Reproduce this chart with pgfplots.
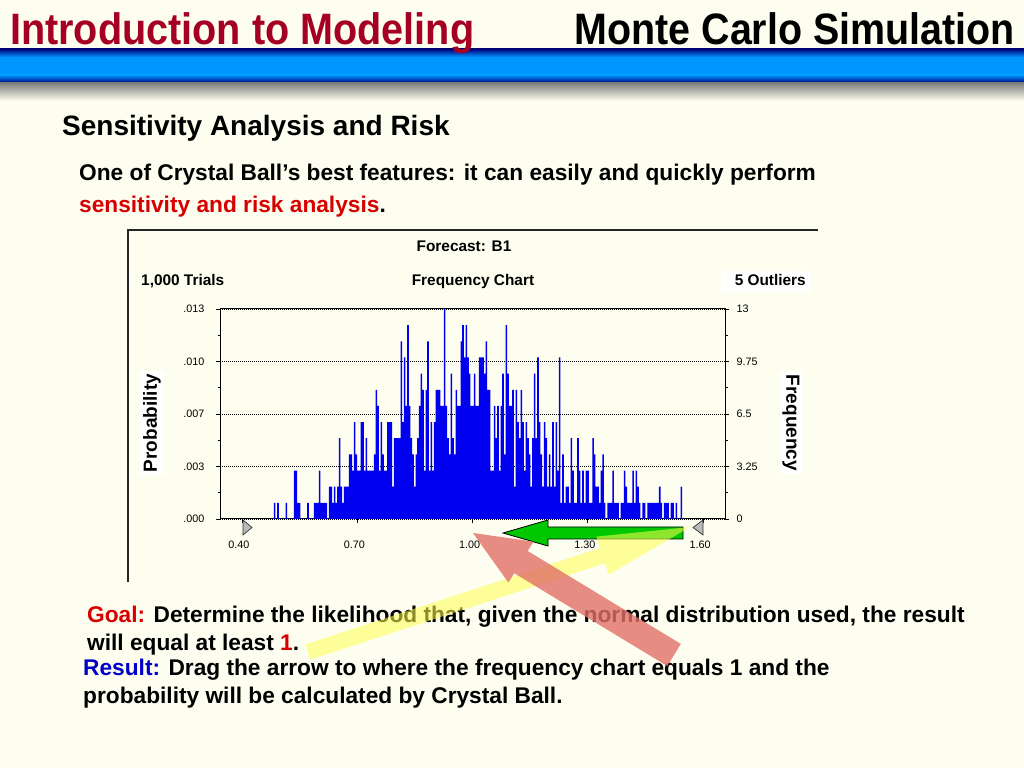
\documentclass[border=0pt]{standalone}
\usepackage{pgfplots}
\pgfplotsset{compat=1.18}
\usepackage{pgfplotstable}
\usepackage{fontspec}
\setmainfont{Liberation Sans}

\definecolor{bg}{RGB}{254,254,240}
\definecolor{titlered}{RGB}{165,0,35}
\definecolor{navy}{RGB}{0,0,125}
\definecolor{bandblue}{RGB}{0,150,255}
\definecolor{txtred}{RGB}{215,0,0}
\definecolor{txtblue}{RGB}{0,0,200}
\definecolor{barblue}{RGB}{0,0,240}
\definecolor{arrowgreen}{RGB}{0,200,0}
\definecolor{salmon}{RGB}{225,112,104}
\definecolor{yell}{RGB}{255,255,80}

% frequency counts of the 250 cells (1,000 trials)
\pgfplotstableread[row sep=\\]{
count\\
0\\0\\0\\0\\1\\0\\1\\0\\0\\0\\0\\1\\0\\0\\0\\0\\3\\3\\1\\1\\0\\0\\0\\0\\1\\0\\0\\0\\1\\1\\1\\3\\1\\1\\1\\1\\0\\2\\2\\1\\2\\1\\2\\5\\2\\1\\2\\2\\2\\4\\4\\3\\6\\4\\3\\3\\6\\6\\3\\5\\3\\3\\3\\
3\\4\\8\\7\\3\\6\\4\\3\\3\\6\\6\\6\\2\\5\\5\\5\\5\\11\\6\\10\\7\\12\\7\\5\\4\\2\\4\\5\\7\\9\\8\\3\\8\\11\\3\\6\\3\\6\\8\\8\\8\\7\\7\\13\\7\\5\\4\\9\\5\\4\\8\\7\\7\\11\\12\\10\\12\\10\\9\\7\\7\\
9\\7\\7\\10\\10\\10\\9\\11\\8\\8\\3\\3\\7\\5\\7\\3\\7\\9\\4\\12\\9\\7\\7\\8\\2\\8\\6\\5\\8\\6\\3\\6\\5\\4\\2\\5\\9\\5\\10\\6\\4\\2\\6\\5\\2\\4\\2\\6\\2\\6\\3\\10\\1\\4\\1\\2\\2\\1\\5\\3\\1\\
1\\5\\3\\1\\3\\1\\3\\3\\1\\1\\5\\4\\2\\2\\1\\3\\4\\1\\0\\1\\1\\1\\3\\1\\1\\1\\0\\1\\1\\3\\2\\1\\1\\1\\3\\1\\3\\2\\1\\0\\1\\1\\0\\1\\1\\1\\1\\1\\1\\1\\2\\1\\0\\1\\1\\1\\0\\1\\1\\0\\1\\0\\0\\2\\0\\
}\freqtable

\begin{document}
\begin{tikzpicture}[x=1pt,y=1pt]
% background
\fill[bg] (0,0) rectangle (1024,768);

% header band
\shade[top color=navy, bottom color=bandblue] (0,719) rectangle (1024,711);
\fill[bandblue] (0,711) rectangle (1024,693);
\shade[top color=bandblue, bottom color=navy] (0,693) rectangle (1024,685);
\shade[top color=black!50, bottom color=bg] (0,685) rectangle (1024,667);

% titles
\node[anchor=base west, inner sep=0, xscale=0.90, text=titlered,
      font=\bfseries\fontsize{44}{50}\selectfont] at (10,723) {Introduction to Modeling};
\node[anchor=base east, inner sep=0, xscale=0.896, text=black,
      font=\bfseries\fontsize{44}{50}\selectfont] at (1015,723) {Monte Carlo Simulation};

% slide text
\node[anchor=base west, inner sep=0, font=\bfseries\fontsize{28}{32}\selectfont] at (62,632) {Sensitivity Analysis and Risk};
\node[anchor=base west, inner sep=0, font=\bfseries\fontsize{22.7}{26}\selectfont] at (79,587) {One of Crystal Ball’s best features: it can easily and quickly perform};
\node[anchor=base west, inner sep=0, font=\bfseries\fontsize{22.7}{26}\selectfont] at (79,555) {\textcolor{txtred}{sensitivity and risk analysis}.};

% chart frame (screenshot edges)
\draw[line width=1.5pt, black!85] (128,186) -- (128,538) -- (818,538);

% chart headings
\node[anchor=base, inner sep=0, font=\bfseries\fontsize{15.4}{18}\selectfont] at (464,516) {Forecast: B1};
\node[anchor=base west, inner sep=0, font=\bfseries\fontsize{15.4}{18}\selectfont] at (141,482) {1,000 Trials};
\node[anchor=base, inner sep=0, font=\bfseries\fontsize{15.4}{18}\selectfont] at (473,482) {Frequency Chart};
\fill[white] (721,476) rectangle (811,497);
\node[anchor=base east, inner sep=0, font=\bfseries\fontsize{15.4}{18}\selectfont] at (806,482) {5 Outliers};

% axis labels with white boxes
\node[fill=white, rotate=90, inner sep=3pt, font=\bfseries\fontsize{19}{22}\selectfont] at (152,345) {Probability};
\node[fill=white, rotate=-90, inner sep=3pt, font=\bfseries\fontsize{19}{22}\selectfont] at (791,345) {Frequency};

\begin{axis}[
  at={(220pt,249pt)}, anchor=south west,
  scale only axis, width=505pt, height=210pt,
  xmin=0.3428, xmax=1.6568, ymin=0, ymax=13,
  axis background/.style={fill=bg},
  xtick={0.4,0.7,1.0,1.3,1.6},
  xticklabels={0.40,0.70,1.00,1.30,1.60},
  ytick={0,3.25,6.5,9.75,13},
  yticklabels={.000,.003,.007,.010,.013},
  minor ytick={1.625,4.875,8.125,11.375},
  ymajorgrids,
  grid style={black, dash pattern=on 1pt off 1pt, line width=0.8pt},
  tick align=outside, major tick length=4pt, minor tick length=2.5pt,
  xtick pos=bottom, ytick pos=left,
  tick style={black, line width=0.8pt},
  axis line style={black, line width=1pt},
  /pgf/number format/assume math mode=true,
  ticklabel style={font=\fontsize{10.8}{12}\selectfont},
  yticklabel style={xshift=-8pt},
  xticklabel style={yshift=-14pt, xshift=-3pt},
]
\addplot[ybar, bar width=0.0041, fill=barblue, draw=none]
  table[x expr={0.4677+\coordindex*0.004337}, y=count] {\freqtable};
\end{axis}

\begin{axis}[
  at={(220pt,249pt)}, anchor=south west,
  scale only axis, width=505pt, height=210pt,
  xmin=0.3428, xmax=1.6568, ymin=0, ymax=13,
  axis y line*=right, axis x line=none,
  ytick={0,3.25,6.5,9.75,13},
  yticklabels={0,3.25,6.5,9.75,13},
  minor ytick={1.625,4.875,8.125,11.375},
  tick align=outside, major tick length=4pt, minor tick length=2.5pt,
  tick style={black, line width=0.8pt},
  axis line style={black, line width=1pt},
  /pgf/number format/assume math mode=true,
  ticklabel style={font=\fontsize{10.8}{12}\selectfont},
  yticklabel style={xshift=4pt},
]
\addplot[draw=none] coordinates {(0.5,0)};
\end{axis}

% certainty grabbers
\draw[fill=gray!55, draw=black!80, line width=0.7pt] (243,248) -- (243,233) -- (252,240.5) -- cycle;
\draw[fill=gray!55, draw=black!80, line width=0.7pt] (703,248) -- (703,233) -- (693,240.5) -- cycle;

% green arrow
\draw[fill=arrowgreen, draw=black, line width=0.8pt]
  (503,235) -- (548,248) -- (548,241) -- (683,241) -- (683,229) -- (548,229) -- (548,222) -- cycle;

% bottom text
\node[anchor=base west, inner sep=0, font=\bfseries\fontsize{22.7}{26}\selectfont] at (87,146)
  {\textcolor{txtred}{Goal:} Determine the likelihood that, given the normal distribution used, the result};
\node[anchor=base west, inner sep=0, font=\bfseries\fontsize{22.7}{26}\selectfont] at (87,118)
  {will equal at least \textcolor{txtred}{1}.};
\node[anchor=base west, inner sep=0, font=\bfseries\fontsize{22.7}{26}\selectfont] at (83,93)
  {\textcolor{txtblue}{Result:} Drag the arrow to where the frequency chart equals 1 and the};
\node[anchor=base west, inner sep=0, font=\bfseries\fontsize{22.7}{26}\selectfont] at (83,65)
  {probability will be calculated by Crystal Ball.};

% yellow arrow
\fill[yell, opacity=0.55]
  (310.5,108.4) -- (605.1,204.8) -- (608.8,193.4) -- (690,241) -- (596.4,231.4) -- (600.1,220.0) -- (305.5,123.6) -- cycle;
% salmon arrow
\fill[salmon, opacity=0.8]
  (473,235) -- (533.4,226.4) -- (527.7,217.0) -- (680.8,124.1) -- (667.3,101.9) -- (514.2,194.8) -- (508.4,185.4) -- cycle;

\pgfresetboundingbox
\path[use as bounding box] (0,0) rectangle (1024,768);
\end{tikzpicture}
\end{document}
